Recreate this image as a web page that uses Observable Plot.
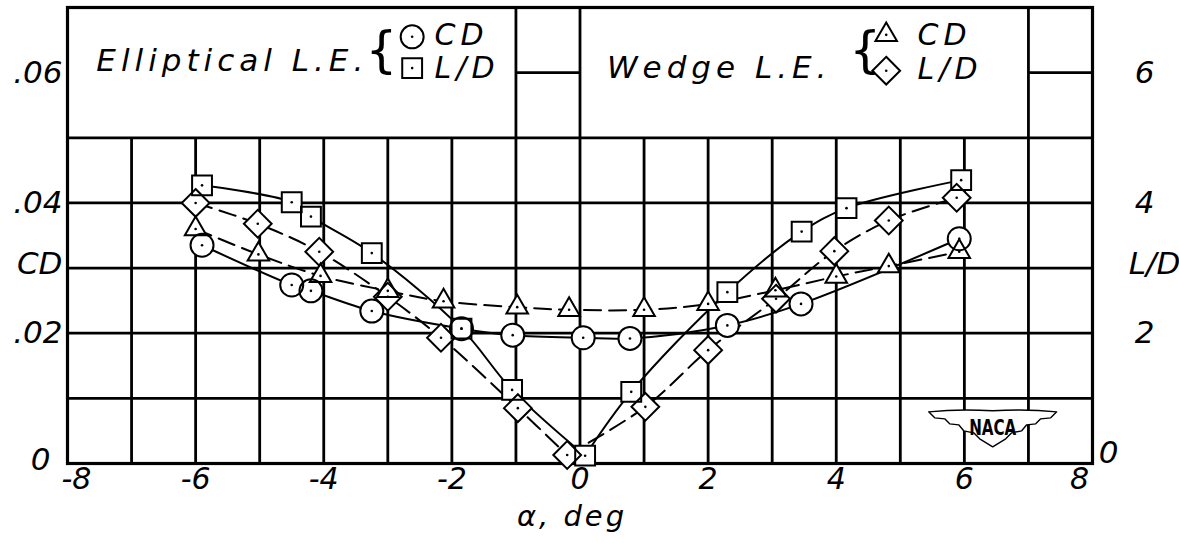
<!DOCTYPE html>
<html><head><meta charset="utf-8">
<script src="https://cdn.jsdelivr.net/npm/d3@7"></script>
<script src="https://cdn.jsdelivr.net/npm/@observablehq/plot@0.6"></script>
<style>
html,body{margin:0;padding:0;background:#fff;}
#chart svg{display:block;}
</style>
</head><body><div id="chart"></div>
<script>
// ---- data (angle of attack in deg) ----
const alphaEllipticalCD = [-5.9, -4.5, -4.2, -3.25, -1.85, -1.05, 0.05, 0.78, 2.3, 3.45, 5.92];
const ellipticalCD      = [0.0335, 0.0274, 0.0265, 0.0234, 0.0207, 0.0197, 0.0193, 0.0192, 0.0212, 0.0245, 0.0345];
const alphaEllipticalLD = [-5.9, -4.5, -4.2, -3.25, -1.85, -1.06, 0.08, 0.8, 2.3, 3.46, 4.16, 5.95];
const ellipticalLD      = [4.27, 4.01, 3.79, 3.23, 2.07, 1.13, 0.12, 1.1, 2.63, 3.56, 3.92, 4.35];
const alphaWedgeCD = [-6.0, -5.02, -4.05, -3.0, -2.13, -0.98, -0.17, 1.0, 2.0, 3.05, 4.0, 4.82, 5.92];
const wedgeCD      = [0.0360, 0.0321, 0.0288, 0.0265, 0.0249, 0.0240, 0.0236, 0.0236, 0.0245, 0.0266, 0.0287, 0.0303, 0.0325];
const alphaWedgeLD = [-6.0, -5.03, -4.07, -3.0, -2.17, -0.97, -0.2, 1.02, 2.0, 3.06, 3.97, 4.82, 5.88];
const wedgeLD      = [4.0, 3.68, 3.25, 2.56, 1.93, 0.85, 0.13, 0.87, 1.74, 2.53, 3.26, 3.73, 4.08];

// ---- axis ticks / labels ----
const xTickValues = [-6, -4, -2, 0, 2, 4, 6];
const xTickLabels = ["-6", "-4", "-2", "0", "2", "4", "6"];
const xEndValues = [-8, 8];
const xEndLabels = ["-8", "8"];
const cdTickValues = [0.02, 0.04, 0.06];
const cdTickLabels = [".02", ".04", ".06"];
const ldTickValues = [2, 4, 6];
const ldTickLabels = ["2", "4", "6"];
const xGridValues = [-8,-7,-6,-5,-4,-3,-2,-1,0,1,2,3,4,5,6,7,8];
const yGridValues = [0.01, 0.02, 0.03, 0.04, 0.05];
const topBandXGrid = [-1, 0, 7];

// ---- build tables ----
const toRows = (xs, ys) => xs.map((a, i) => ({a, v: ys[i]}));
const ellCD = toRows(alphaEllipticalCD, ellipticalCD);
const ellLD = toRows(alphaEllipticalLD, ellipticalLD).map(d => ({...d, v: d.v / 100}));
const wedCD = toRows(alphaWedgeCD, wedgeCD);
const wedLD = toRows(alphaWedgeLD, wedgeLD).map(d => ({...d, v: d.v / 100}));
// L/D curves have a sharp V at their minimum: split into two branches there
function branches(rows) {
  let k = 0; rows.forEach((d, i) => { if (d.v < rows[k].v) k = i; });
  return [...rows.slice(0, k + 1).map(d => ({...d, b: "L"})), ...rows.slice(k).map(d => ({...d, b: "R"}))];
}

const FONT = "DejaVu Sans";
const txt = {fontFamily: FONT, fontStyle: "italic", fill: "black"};
const GRID = 2.8;

function nacaLogo(ax, ay) {
  return (index, scales) => {
    const px = scales.x(ax), py = scales.y(ay);
    const g = d3.create("svg:g").attr("transform", `translate(${px},${py})`);
    g.append("path")
      .attr("d", "M-64,-16 Q-34,-19 0,-17 Q34,-19 64,-16 L58,-10 L48,-9 L43,-4 L34,-3 L29,3 L19,5 L13,11 L0,19 L-13,11 L-19,5 L-29,3 L-34,-3 L-43,-4 L-48,-9 L-58,-10 Z")
      .attr("fill", "white").attr("stroke", "black").attr("stroke-width", 1.4).attr("stroke-linejoin", "round");
    g.append("text").text("NACA")
      .attr("transform", "translate(0,7) scale(0.72,1)")
      .attr("text-anchor", "middle").attr("font-family", FONT).attr("font-weight", "bold")
      .attr("font-size", 21).attr("fill", "black");
    return g.node();
  };
}

const sym = (rows, symbol, r) => Plot.dot(rows, {x: "a", y: "v", symbol, r, fill: "white", stroke: "none"});
const symO = (rows, symbol, r) => Plot.dot(rows, {x: "a", y: "v", symbol, r, fill: "none", stroke: "black", strokeWidth: 2});
const R = {circle: 11.5, square: 11.2, diamond2: 12.5, triangle: 8};

const chart = Plot.plot({
  width: 1179, height: 543,
  marginLeft: 67, marginRight: 87, marginTop: 7, marginBottom: 80,
  x: {domain: [-8, 8], axis: null},
  y: {domain: [0, 0.07], axis: null},
  style: {background: "white"},
  marks: [
    // grid
    Plot.ruleX(xGridValues, {x: d => d, y1: 0, y2: 0.05, stroke: "black", strokeWidth: GRID}),
    Plot.ruleX(topBandXGrid, {x: d => d, y1: 0.05, y2: 0.07, stroke: "black", strokeWidth: GRID}),
    Plot.ruleY(yGridValues, {y: d => d, stroke: "black", strokeWidth: GRID}),
    Plot.ruleY([0.06], {y: d => d, x1: -1, x2: 0, stroke: "black", strokeWidth: GRID}),
    Plot.ruleY([0.06], {y: d => d, x1: 7, x2: 8, stroke: "black", strokeWidth: GRID}),
    Plot.frame({stroke: "black", strokeWidth: 3.2}),
    nacaLogo(6.45, 0.0054),
    // curves
    Plot.line(ellCD, {x: "a", y: "v", curve: "catmull-rom", stroke: "black", strokeWidth: 2}),
    Plot.line(branches(ellLD), {x: "a", y: "v", z: "b", curve: "catmull-rom", stroke: "black", strokeWidth: 2}),
    Plot.line(wedCD, {x: "a", y: "v", curve: "catmull-rom", stroke: "black", strokeWidth: 2, strokeDasharray: "17,8"}),
    Plot.line(branches(wedLD), {x: "a", y: "v", z: "b", curve: "catmull-rom", stroke: "black", strokeWidth: 2, strokeDasharray: "17,8"}),
    // marker fills then outlines
    sym(ellLD, "square", R.square), sym(wedLD, "diamond2", R.diamond2), sym(ellCD, "circle", R.circle), sym(wedCD, "triangle", R.triangle),
    symO(ellLD, "square", R.square), symO(wedLD, "diamond2", R.diamond2), symO(ellCD, "circle", R.circle), symO(wedCD, "triangle", R.triangle),
    ...[ellLD, wedLD, ellCD, wedCD].map(rows => Plot.dot(rows, {x: "a", y: "v", r: 1.3, fill: "black"})),
    // axes labels
    Plot.text(cdTickValues, {y: d => d, text: (d, i) => cdTickLabels[i], frameAnchor: "left", textAnchor: "end", dx: -5, fontSize: 31, ...txt}),
    Plot.text(["0"], {y: () => 0, frameAnchor: "left", textAnchor: "end", dx: -17, dy: -3, fontSize: 31, ...txt}),
    Plot.text(["CD"], {y: () => 0.03, frameAnchor: "left", textAnchor: "end", dx: -5, dy: -4, fontSize: 31, ...txt}),
    Plot.text(ldTickValues, {y: d => d / 100, text: (d, i) => ldTickLabels[i], frameAnchor: "right", textAnchor: "middle", dx: 52, fontSize: 31, ...txt}),
    Plot.text(["0"], {y: () => 0, frameAnchor: "right", textAnchor: "middle", dx: 16, dy: -10, fontSize: 31, ...txt}),
    Plot.text(["L/D"], {y: () => 0.03, frameAnchor: "right", textAnchor: "middle", dx: 62, dy: -4, fontSize: 31, ...txt}),
    Plot.text(xTickValues, {x: d => d, text: (d, i) => xTickLabels[i], frameAnchor: "bottom", dy: 25, fontSize: 30, ...txt}),
    Plot.text([xEndValues[0]], {x: d => d, text: () => xEndLabels[0], frameAnchor: "bottom", dy: 25, dx: 9, fontSize: 30, ...txt}),
    Plot.text([xEndValues[1]], {x: d => d, text: () => xEndLabels[1], frameAnchor: "bottom", dy: 25, dx: -13, fontSize: 30, ...txt}),
    Plot.text(["α, deg"], {frameAnchor: "bottom", dy: 62, dx: -8, fontSize: 29, ariaDescription: "wide", ...txt}),
    // legend
    Plot.text(["Elliptical L.E."], {x: () => -7.55, y: () => 0.0617, textAnchor: "start", fontSize: 31, ariaDescription: "legend", ...txt}),
    Plot.text(["{"], {x: () => -3.1, y: () => 0.0633, fontSize: 50, fontFamily: FONT}),
    Plot.dot([0], {x: () => -2.62, y: () => 0.0655, symbol: "circle", r: R.circle, stroke: "black", strokeWidth: 2}),
    Plot.dot([0], {x: () => -2.62, y: () => 0.0607, symbol: "square", r: R.square, stroke: "black", strokeWidth: 2}),
    Plot.text(["CD"], {x: () => -2.27, y: () => 0.0657, textAnchor: "start", fontSize: 30, ariaDescription: "legend", ...txt}),
    Plot.text(["L/D"], {x: () => -2.27, y: () => 0.0607, textAnchor: "start", fontSize: 30, ariaDescription: "legend", ...txt}),
    Plot.text(["Wedge L.E."], {x: () => 0.42, y: () => 0.0607, textAnchor: "start", fontSize: 31, ariaDescription: "legend", ...txt}),
    Plot.text(["{"], {x: () => 4.45, y: () => 0.0633, fontSize: 50, fontFamily: FONT}),
    Plot.dot([0], {x: () => 4.78, y: () => 0.0658, symbol: "triangle", r: R.triangle, stroke: "black", strokeWidth: 2}),
    Plot.dot([0], {x: () => 4.78, y: () => 0.0603, symbol: "diamond2", r: R.diamond2, stroke: "black", strokeWidth: 2}),
    Plot.text(["CD"], {x: () => 5.27, y: () => 0.0657, textAnchor: "start", fontSize: 30, ariaDescription: "legend", ...txt}),
    Plot.text(["L/D"], {x: () => 5.27, y: () => 0.0605, textAnchor: "start", fontSize: 30, ariaDescription: "legend", ...txt}),
    Plot.dot([-2.62, 4.78], {x: d => d, y: (d, i) => i ? 0.0658 : 0.0655, r: 1.3, fill: "black"}),
    Plot.dot([-2.62, 4.78], {x: d => d, y: (d, i) => i ? 0.0603 : 0.0607, r: 1.3, fill: "black"})
  ]
});
d3.select(chart).selectAll('g[aria-description="legend"] text').style("letter-spacing", "5px");
d3.select(chart).selectAll('g[aria-description="wide"] text').style("letter-spacing", "3px");
document.getElementById("chart").appendChild(chart);
</script>
</body></html>
